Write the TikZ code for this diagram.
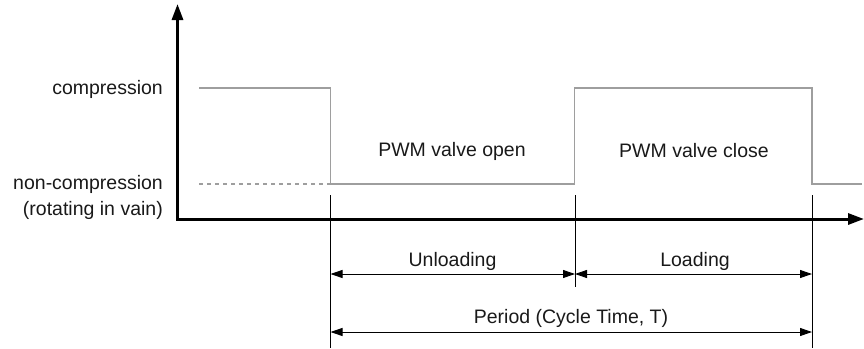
\documentclass[tikz,border=0pt]{standalone}
\usepackage{fontspec}
\setmainfont{Liberation Sans}
\usetikzlibrary{arrows.meta}
\begin{document}
\begin{tikzpicture}[x=1pt,y=-1pt,
  lbl/.style={font=\fontsize{19.5}{23}\selectfont, inner sep=0pt, text=black!90},
  axisline/.style={line width=3pt, black},
  sigline/.style={line width=1.3pt, black!38},
  dashline/.style={line width=1.3pt, black!38, dash pattern=on 4pt off 4pt},
  guide/.style={line width=0.9pt, black},
  dimarrow/.style={line width=0.9pt, black, {Triangle[length=12pt,width=8pt]}-{Triangle[length=12pt,width=8pt]}},
  axtip/.tip={Triangle[length=16pt,width=11pt]}
]
\useasboundingbox (0,0) rectangle (864,348);
% axes
\coordinate (ytip) at (177.5,4);
\coordinate (orig) at (177.5,219);
\coordinate (xtip) at (864,219);
\draw[axisline, axtip-axtip] (ytip) -- (orig) -- (xtip);
% signal
\coordinate (s0) at (199,88);
\coordinate (s1) at (330.5,88);
\coordinate (s2) at (330.5,184);
\coordinate (s3) at (574.5,184);
\coordinate (s4) at (574.5,88);
\coordinate (s5) at (812,88);
\coordinate (s6) at (812,184);
\coordinate (s7) at (862,184);
\coordinate (d0) at (199,184);
\draw[sigline] (s0) -- (s1) -- (s2) -- (s3) -- (s4) -- (s5) -- (s6) -- (s7);
\draw[dashline] (d0) -- (s2);
% guides
\coordinate (g1t) at (330.5,195);
\coordinate (g1b) at (330.5,348);
\coordinate (g2t) at (575,195);
\coordinate (g2b) at (575,287);
\coordinate (g3t) at (812,195);
\coordinate (g3b) at (812,348);
\draw[guide] (g1t) -- (g1b);
\draw[guide] (g2t) -- (g2b);
\draw[guide] (g3t) -- (g3b);
% dimension arrows
\coordinate (u1) at (330.5,274);
\coordinate (u2) at (575,274);
\coordinate (u3) at (812,274);
\coordinate (p1) at (330.5,332);
\coordinate (p2) at (812,332);
\draw[dimarrow] (u1) -- (u2);
\draw[dimarrow] (u2) -- (u3);
\draw[dimarrow] (p1) -- (p2);
% labels
\node[lbl, anchor=east] (comp) at (163,89) {compression};
\node[lbl, anchor=east] (noncomp) at (163,184) {non-compression};
\node[lbl, anchor=east] (rot) at (163,210) {(rotating in vain)};
\node[lbl] (open) at (452,151) {PWM valve open};
\node[lbl] (close) at (694,151) {PWM valve close};
\node[lbl] (unl) at (452.5,261) {Unloading};
\node[lbl] (lod) at (695,261) {Loading};
\node[lbl] (per) at (571,318) {Period (Cycle Time, T)};
\end{tikzpicture}
\end{document}
